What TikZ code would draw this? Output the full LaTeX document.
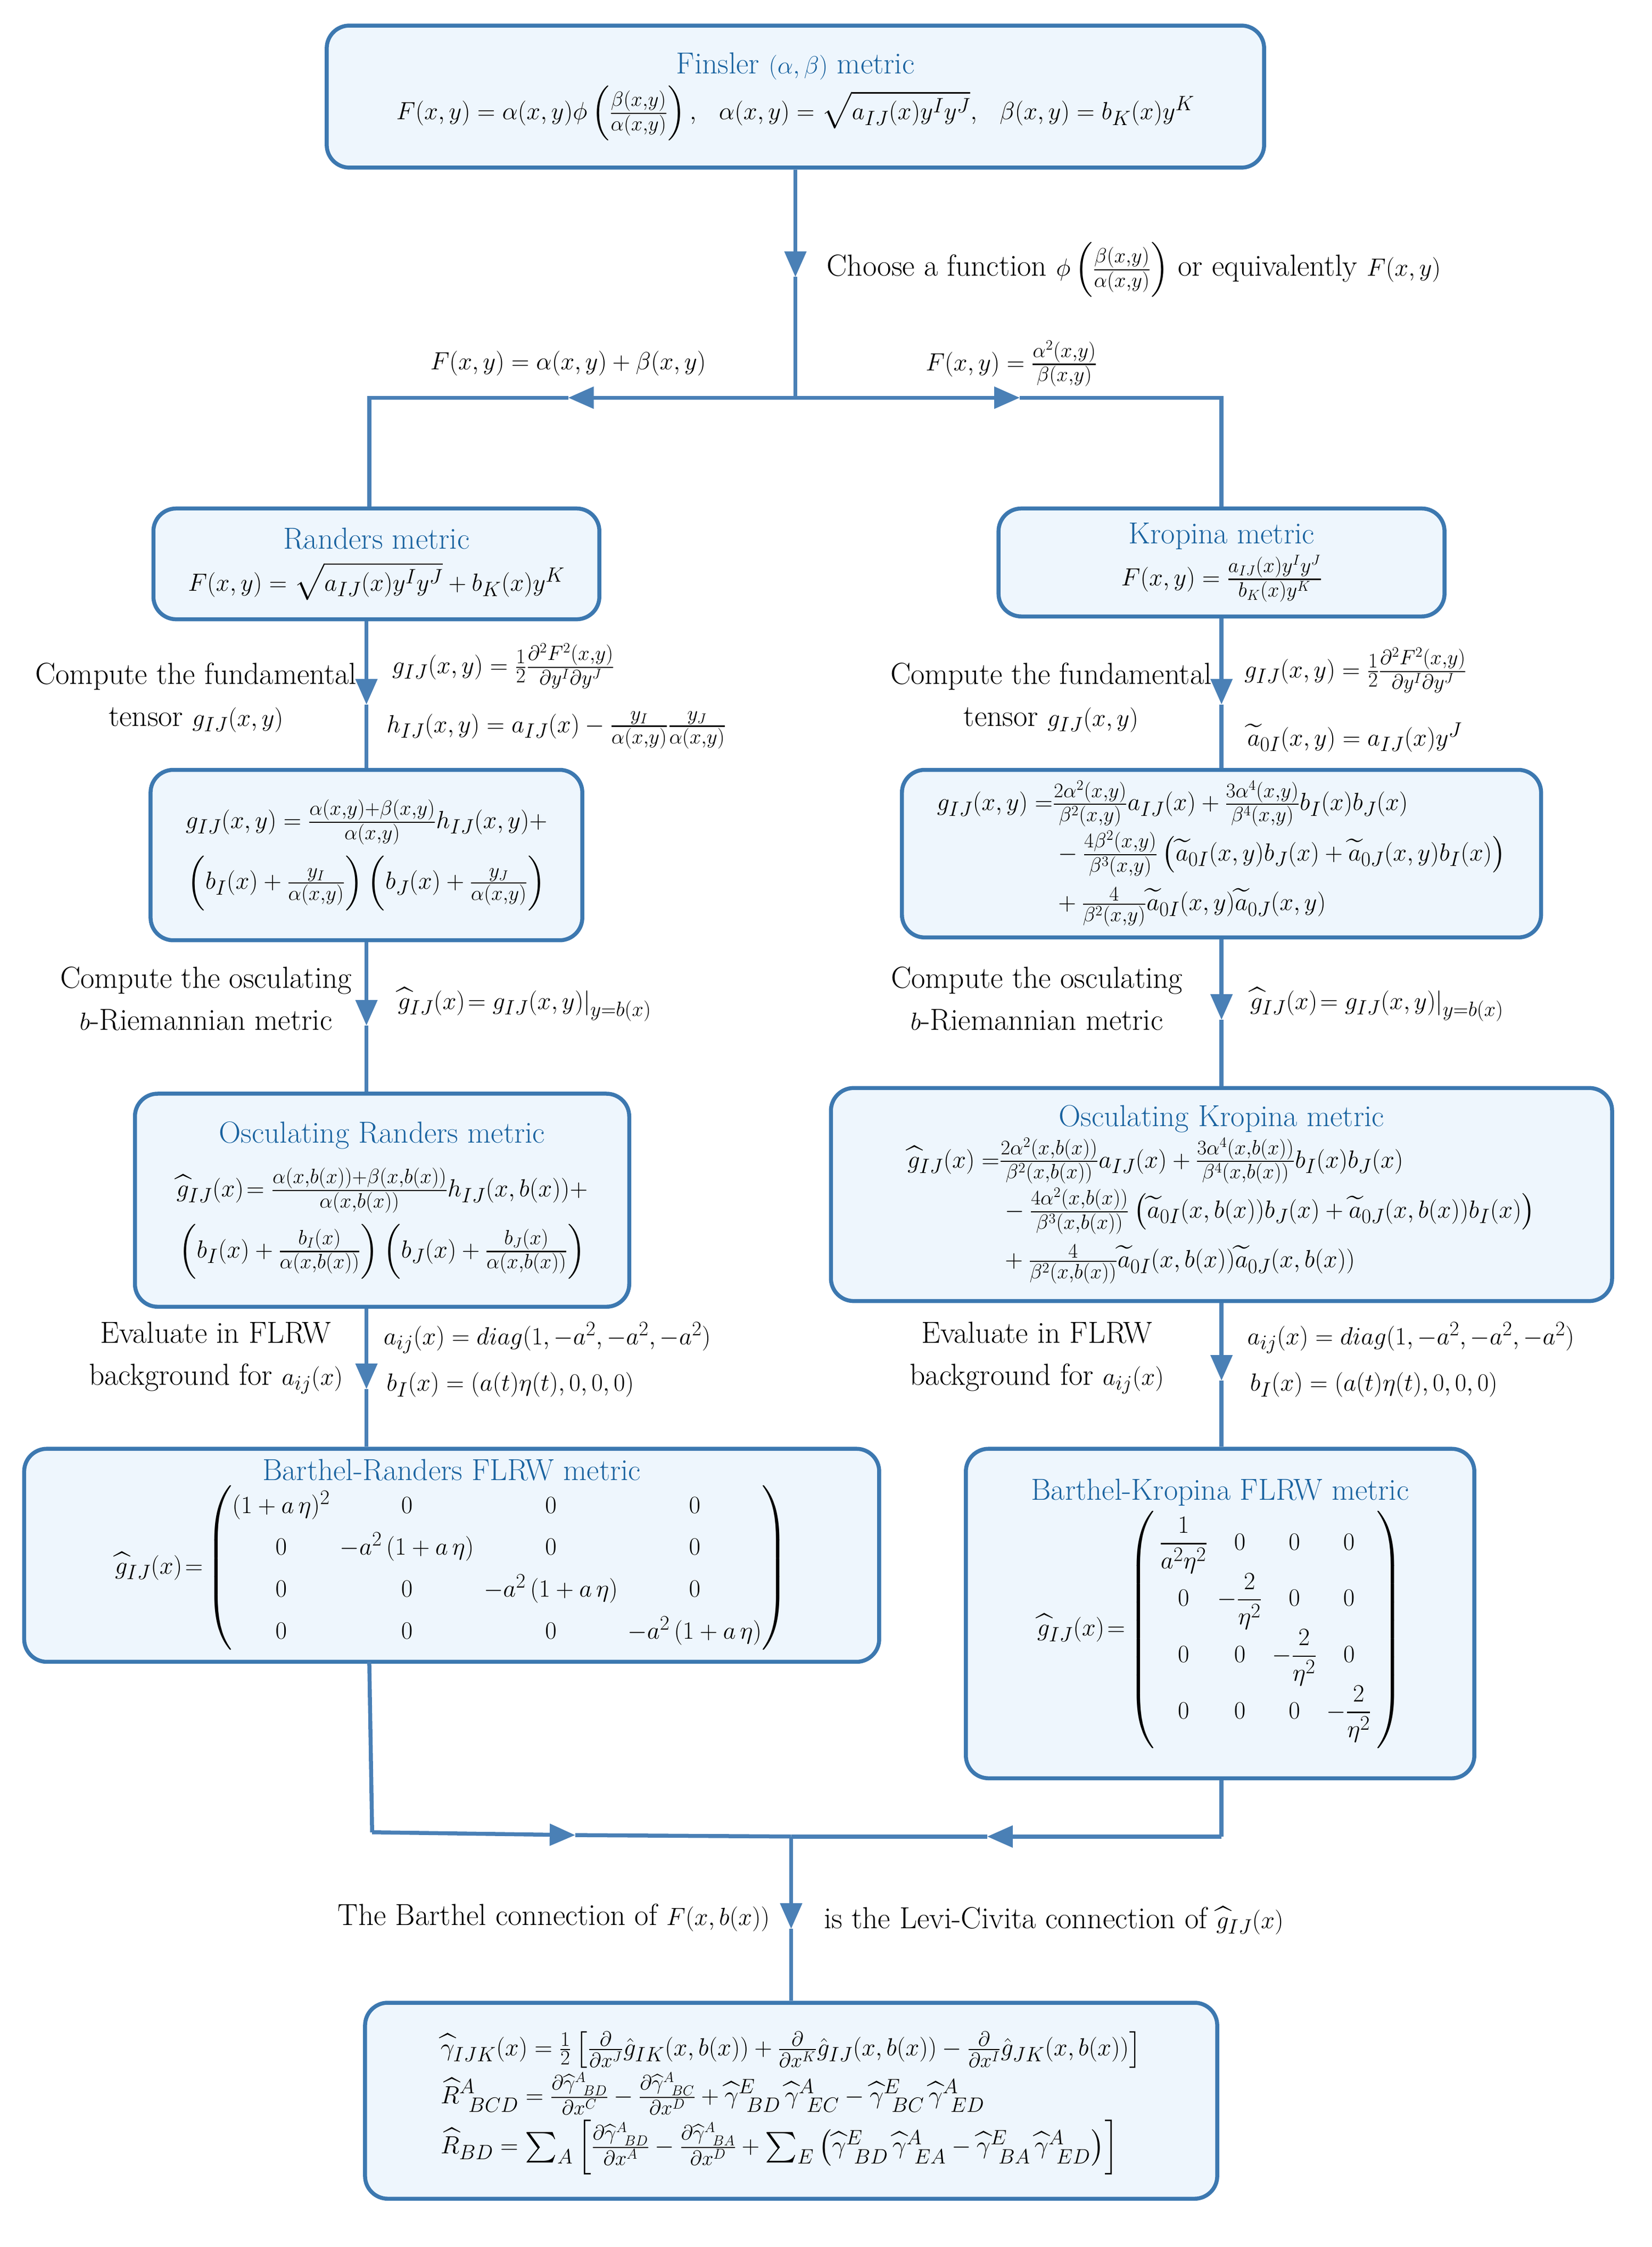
\documentclass[tikz,border=0pt]{standalone}
\usepackage{amsmath,amssymb}
\usetikzlibrary{arrows.meta}
\definecolor{bfill}{HTML}{EEF6FD}
\definecolor{bdraw}{HTML}{3C78B0}
\definecolor{ttl}{HTML}{1A63A0}
\definecolor{lnc}{HTML}{4A80B6}
\begin{document}
\begin{tikzpicture}[x=0.05cm,y=-0.05cm,
  box/.style={draw=bdraw,fill=bfill,line width=4pt,rounded corners=0.8cm,align=center,inner sep=0pt},
  ln/.style={draw=lnc,line width=4pt},
  ar/.style={ln,-{Triangle[length=0.9cm,width=0.75cm]}},
  lab/.style={align=center,inner sep=0pt},
  every node/.style={font=\fontsize{30.5}{42}\selectfont}]
\useasboundingbox (0,0) rectangle (1163,1582);
% boxes
\node[box,minimum width=33cm,minimum height=5cm] (fin) at (560,68) {{\color{ttl}Finsler $(\alpha,\beta)$ metric}\\[4pt]
$F(x,y)=\alpha(x,y)\phi\left(\frac{\beta(x,y)}{\alpha(x,y)}\right),\ \ \alpha(x,y)=\sqrt{a_{IJ}(x)y^Iy^J},\ \ \beta(x,y)=b_K(x)y^K$};
\node[box,minimum width=15.7cm,minimum height=3.9cm] (ran) at (265,397) {{\color{ttl}Randers metric}\\ $F(x,y)=\sqrt{a_{IJ}(x)y^Iy^J}+b_K(x)y^K$};
\node[box,minimum width=15.7cm,minimum height=3.8cm] (kro) at (860,396) {{\color{ttl}Kropina metric}\\ $F(x,y)=\frac{a_{IJ}(x)y^Iy^J}{b_K(x)y^K}$};
\node[box,minimum width=15.2cm,minimum height=6cm] (rg) at (258,602) {$g_{IJ}(x,y)=\frac{\alpha(x,y)+\beta(x,y)}{\alpha(x,y)}h_{IJ}(x,y)+$\\[10pt]
$\left(b_I(x)+\frac{y_I}{\alpha(x,y)}\right)\left(b_J(x)+\frac{y_J}{\alpha(x,y)}\right)$};
\node[box,minimum width=22.5cm,minimum height=5.9cm] (kg) at (860,601) {$\begin{aligned}g_{IJ}(x,y)=&\tfrac{2\alpha^2(x,y)}{\beta^2(x,y)}a_{IJ}(x)+\tfrac{3\alpha^4(x,y)}{\beta^4(x,y)}b_I(x)b_J(x)\\
&-\tfrac{4\beta^2(x,y)}{\beta^3(x,y)}\left(\widetilde a_{0I}(x,y)b_J(x)+\widetilde a_{0J}(x,y)b_I(x)\right)\\
&+\tfrac{4}{\beta^2(x,y)}\widetilde a_{0I}(x,y)\widetilde a_{0J}(x,y)\end{aligned}$};
\node[box,minimum width=17.4cm,minimum height=7.5cm] (ro) at (269,845) {{\color{ttl}Osculating Randers metric}\\[12pt]
$\widehat g_{IJ}(x)\!=\frac{\alpha(x,b(x))+\beta(x,b(x))}{\alpha(x,b(x))}h_{IJ}(x,b(x))+$\\[10pt]
$\left(b_I(x)+\frac{b_I(x)}{\alpha(x,b(x))}\right)\left(b_J(x)+\frac{b_J(x)}{\alpha(x,b(x))}\right)$};
\node[box,minimum width=27.5cm,minimum height=7.5cm] (ko) at (860,841) {{\color{ttl}Osculating Kropina metric}\\[4pt]
$\begin{aligned}\widehat g_{IJ}(x)=&\tfrac{2\alpha^2(x,b(x))}{\beta^2(x,b(x))}a_{IJ}(x)+\tfrac{3\alpha^4(x,b(x))}{\beta^4(x,b(x))}b_I(x)b_J(x)\\
&-\tfrac{4\alpha^2(x,b(x))}{\beta^3(x,b(x))}\left(\widetilde a_{0I}(x,b(x))b_J(x)+\widetilde a_{0J}(x,b(x))b_I(x)\right)\\
&+\tfrac{4}{\beta^2(x,b(x))}\widetilde a_{0I}(x,b(x))\widetilde a_{0J}(x,b(x))\end{aligned}$};
\node[box,minimum width=30.1cm,minimum height=7.5cm] (rb) at (318,1095) {{\color{ttl}Barthel-Randers FLRW metric}\\[2pt]
$\widehat g_{IJ}(x)\!=\!\begin{pmatrix}(1+a\,\eta)^2&\quad0\quad&0&0\\0&-a^2\,(1+a\,\eta)&0&0\\0&0&-a^2\,(1+a\,\eta)&0\\0&0&0&-a^2\,(1+a\,\eta)\end{pmatrix}$};
\node[box,minimum width=17.9cm,minimum height=11.6cm] (kb) at (859,1136) {{\color{ttl}Barthel-Kropina FLRW metric}\\[4pt]
$\widehat g_{IJ}(x)\!=\!\left(\begin{array}{cccc}\dfrac{1}{a^2\eta^2}&0&0&0\\[8pt]0&-\dfrac{2}{\eta^2}&0&0\\[8pt]0&0&-\dfrac{2}{\eta^2}&0\\[8pt]0&0&0&-\dfrac{2}{\eta^2}\end{array}\right)$};
\node[box,minimum width=30cm,minimum height=6.9cm] (bot) at (557,1479) {$\begin{aligned}
&\widehat\gamma_{IJK}(x)=\tfrac12\left[\tfrac{\partial}{\partial x^J}\hat g_{IK}(x,b(x))+\tfrac{\partial}{\partial x^K}\hat g_{IJ}(x,b(x))-\tfrac{\partial}{\partial x^I}\hat g_{JK}(x,b(x))\right]\\
&\widehat R^A_{\ BCD}=\tfrac{\partial\widehat\gamma^A_{\ BD}}{\partial x^C}-\tfrac{\partial\widehat\gamma^A_{\ BC}}{\partial x^D}+\widehat\gamma^E_{\ BD}\,\widehat\gamma^A_{\ EC}-\widehat\gamma^E_{\ BC}\,\widehat\gamma^A_{\ ED}\\
&\widehat R_{BD}=\textstyle\sum_A\left[\tfrac{\partial\widehat\gamma^A_{\ BD}}{\partial x^A}-\tfrac{\partial\widehat\gamma^A_{\ BA}}{\partial x^D}+\sum_E\left(\widehat\gamma^E_{\ BD}\,\widehat\gamma^A_{\ EA}-\widehat\gamma^E_{\ BA}\,\widehat\gamma^A_{\ ED}\right)\right]\end{aligned}$};
% coordinates
\coordinate (s) at (560,280); \coordinate (sl) at (260,280); \coordinate (sr) at (860,280);
\coordinate (m0) at (560,195); \coordinate (ml) at (400,280); \coordinate (mr) at (718,280);
\coordinate (j) at (557,1293); \coordinate (jl) at (262,1290); \coordinate (jr) at (860,1293);
\coordinate (jml) at (405,1292); \coordinate (jmr) at (695,1293); \coordinate (jm) at (557,1358);
% connectors
\draw[ar] (fin.south) -- (m0); \draw[ln] (m0) -- (s);
\draw[ar] (s) -- (ml); \draw[ln] (ml) -- (sl) -- (ran.north -| sl);
\draw[ar] (s) -- (mr); \draw[ln] (mr) -- (sr) -- (kro.north -| sr);
\foreach \a/\b/\x/\y in {ran/rg/258/496,kro/kg/860/496,rg/ro/258/722,kg/ko/860/718,ro/rb/258/978,ko/kb/860/972}{
  \coordinate (t) at (\x,\y);
  \draw[ar] (\a.south -| t) -- (t); \draw[ln] (t) -- (\b.north -| t);}
\draw[ln] (260,1170) -- (jl); \draw[ar] (jl) -- (jml); \draw[ln] (jml) -- (j);
\draw[ln] (kb.south -| jr) -- (jr); \draw[ar] (jr) -- (jmr); \draw[ln] (jmr) -- (j);
\draw[ar] (j) -- (jm); \draw[ln] (jm) -- (bot.north -| jm);
% labels
\node[lab,anchor=west] (l1) at (582,190) {Choose a function $\phi\left(\frac{\beta(x,y)}{\alpha(x,y)}\right)$ or equivalently $F(x,y)$};
\node[lab] (l2) at (400,256) {$F(x,y)=\alpha(x,y)+\beta(x,y)$};
\node[lab] (l3) at (712,256) {$F(x,y)=\frac{\alpha^2(x,y)}{\beta(x,y)}$};
\node[lab] (l4) at (138,491) {Compute the fundamental\\tensor $g_{IJ}(x,y)$};
\node[lab,anchor=west] (l5) at (276,469) {$g_{IJ}(x,y)=\frac12\frac{\partial^2F^2(x,y)}{\partial y^I\partial y^J}$};
\node[lab,anchor=west] (l6) at (272,514) {$h_{IJ}(x,y)=a_{IJ}(x)-\frac{y_I}{\alpha(x,y)}\frac{y_J}{\alpha(x,y)}$};
\node[lab] (l7) at (740,491) {Compute the fundamental\\tensor $g_{IJ}(x,y)$};
\node[lab,anchor=west] (l8) at (876,472) {$g_{IJ}(x,y)=\frac12\frac{\partial^2F^2(x,y)}{\partial y^I\partial y^J}$};
\node[lab,anchor=west] (l9) at (878,519) {$\widetilde a_{0I}(x,y)=a_{IJ}(x)y^J$};
\node[lab] (l10) at (145,703) {Compute the osculating\\$b$-Riemannian metric};
\node[lab,anchor=west] (l11) at (280,707) {$\widehat g_{IJ}(x)\!=g_{IJ}(x,y)|_{y=b(x)}$};
\node[lab] (l12) at (730,703) {Compute the osculating\\$b$-Riemannian metric};
\node[lab,anchor=west] (l13) at (880,707) {$\widehat g_{IJ}(x)\!=g_{IJ}(x,y)|_{y=b(x)}$};
\node[lab] (l14) at (152,956) {Evaluate in FLRW\\background for $a_{ij}(x)$};
\node[lab,anchor=west] (l15) at (270,942) {$a_{ij}(x)=diag(1,-a^2,-a^2,-a^2)$};
\node[lab,anchor=west] (l16) at (272,975) {$b_I(x)=(a(t)\eta(t),0,0,0)$};
\node[lab] (l17) at (730,956) {Evaluate in FLRW\\background for $a_{ij}(x)$};
\node[lab,anchor=west] (l18) at (878,942) {$a_{ij}(x)=diag(1,-a^2,-a^2,-a^2)$};
\node[lab,anchor=west] (l19) at (880,975) {$b_I(x)=(a(t)\eta(t),0,0,0)$};
\node[lab,anchor=east] (l20) at (542,1350) {The Barthel connection of $F(x,b(x))$};
\node[lab,anchor=west] (l21) at (580,1352) {is the Levi-Civita connection of $\widehat g_{IJ}(x)$};
\end{tikzpicture}
\end{document}
